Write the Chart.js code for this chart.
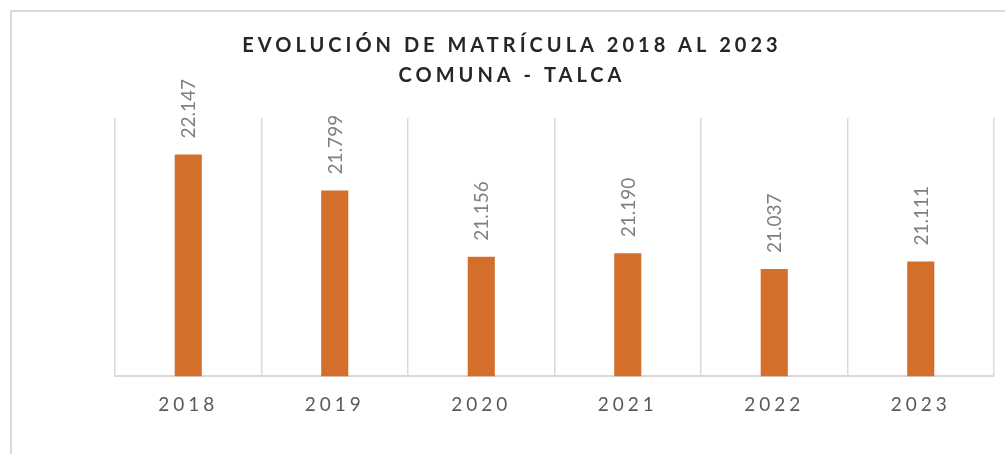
<!DOCTYPE html>
<html>

<head>
    <style>
        html, body {
            margin: 0;
            padding: 0;
            width: 1005px;
            height: 454px;
            overflow: hidden;
            background: #ffffff;
        }

        #frame {
            position: absolute;
            left: 10px;
            top: 10px;
            border-top: 2px solid #d9d9d9;
            border-left: 2px solid #d9d9d9;
        }

        #frame canvas {
            display: block;
        }
    </style>
</head>

<body>
    <div id="frame">
        <canvas id="matriculaChart" width="1000" height="442"></canvas>
    </div>

    <script src="https://cdn.jsdelivr.net/npm/chart.js@4/dist/chart.umd.min.js"></script>
    <script>
        const years = ['2018', '2019', '2020', '2021', '2022', '2023'];
        const enrolment = [22147, 21799, 21156, 21190, 21037, 21111];
        const titleLines = ['EVOLUCIÓN DE MATRÍCULA 2018 AL 2023', 'COMUNA - TALCA'];

        function formatThousands(value) {
            return String(value).replace(/\B(?=(\d{3})+(?!\d))/g, '.');
        }

        // spaced-out lettering like the original title and year labels
        const letterSpacingPlugin = {
            id: 'letterSpacing',
            beforeDraw(chart) {
                chart.ctx.letterSpacing = '4px';
            }
        };

        const barLabelsPlugin = {
            id: 'barLabels',
            afterDatasetsDraw(chart) {
                const ctx = chart.ctx;
                const meta = chart.getDatasetMeta(0);
                ctx.save();
                ctx.letterSpacing = '0px';
                ctx.font = '19px Lato';
                ctx.fillStyle = '#808080';
                ctx.textAlign = 'left';
                ctx.textBaseline = 'middle';
                meta.data.forEach((bar, index) => {
                    ctx.save();
                    ctx.translate(bar.x + 1, bar.y - 16);
                    ctx.rotate(-Math.PI / 2);
                    ctx.fillText(formatThousands(enrolment[index]), 0, 0);
                    ctx.restore();
                });
                ctx.restore();
            }
        };

        // invisible side axes keep the plot inset while the title stays centred on the whole box
        const spacerAxis = (position, width) => ({
            position: position,
            display: true,
            min: 20000,
            max: 22500,
            grid: { display: false },
            border: { display: false },
            ticks: { display: false },
            afterFit(scale) {
                scale.width = width;
            }
        });

        const context = document.getElementById('matriculaChart').getContext('2d');
        const matriculaChart = new Chart(context, {
            type: 'bar',
            data: {
                labels: years,
                datasets: [{
                    label: 'Matrícula',
                    data: enrolment,
                    backgroundColor: '#d46f2b',
                    borderWidth: 0,
                    categoryPercentage: 1,
                    barPercentage: 0.185
                }]
            },
            options: {
                responsive: false,
                animation: false,
                layout: {
                    padding: { left: 0, right: 0, top: 19, bottom: 21 }
                },
                plugins: {
                    legend: { display: false },
                    tooltip: { enabled: false },
                    title: {
                        display: true,
                        text: titleLines,
                        color: '#262626',
                        font: { family: 'Lato', size: 20, weight: 'bold', lineHeight: 1.5 },
                        padding: { top: 0, bottom: 27 }
                    }
                },
                scales: {
                    x: {
                        grid: {
                            offset: true,
                            drawTicks: false,
                            color: '#d9d9d9',
                            lineWidth: 1.5
                        },
                        border: { color: '#d9d9d9', width: 2 },
                        ticks: {
                            color: '#595959',
                            padding: 17,
                            font: { family: 'Lato', size: 19 }
                        }
                    },
                    y: spacerAxis('left', 103),
                    yRight: spacerAxis('right', 18)
                }
            },
            plugins: [letterSpacingPlugin, barLabelsPlugin]
        });
    </script>
</body>

</html>
